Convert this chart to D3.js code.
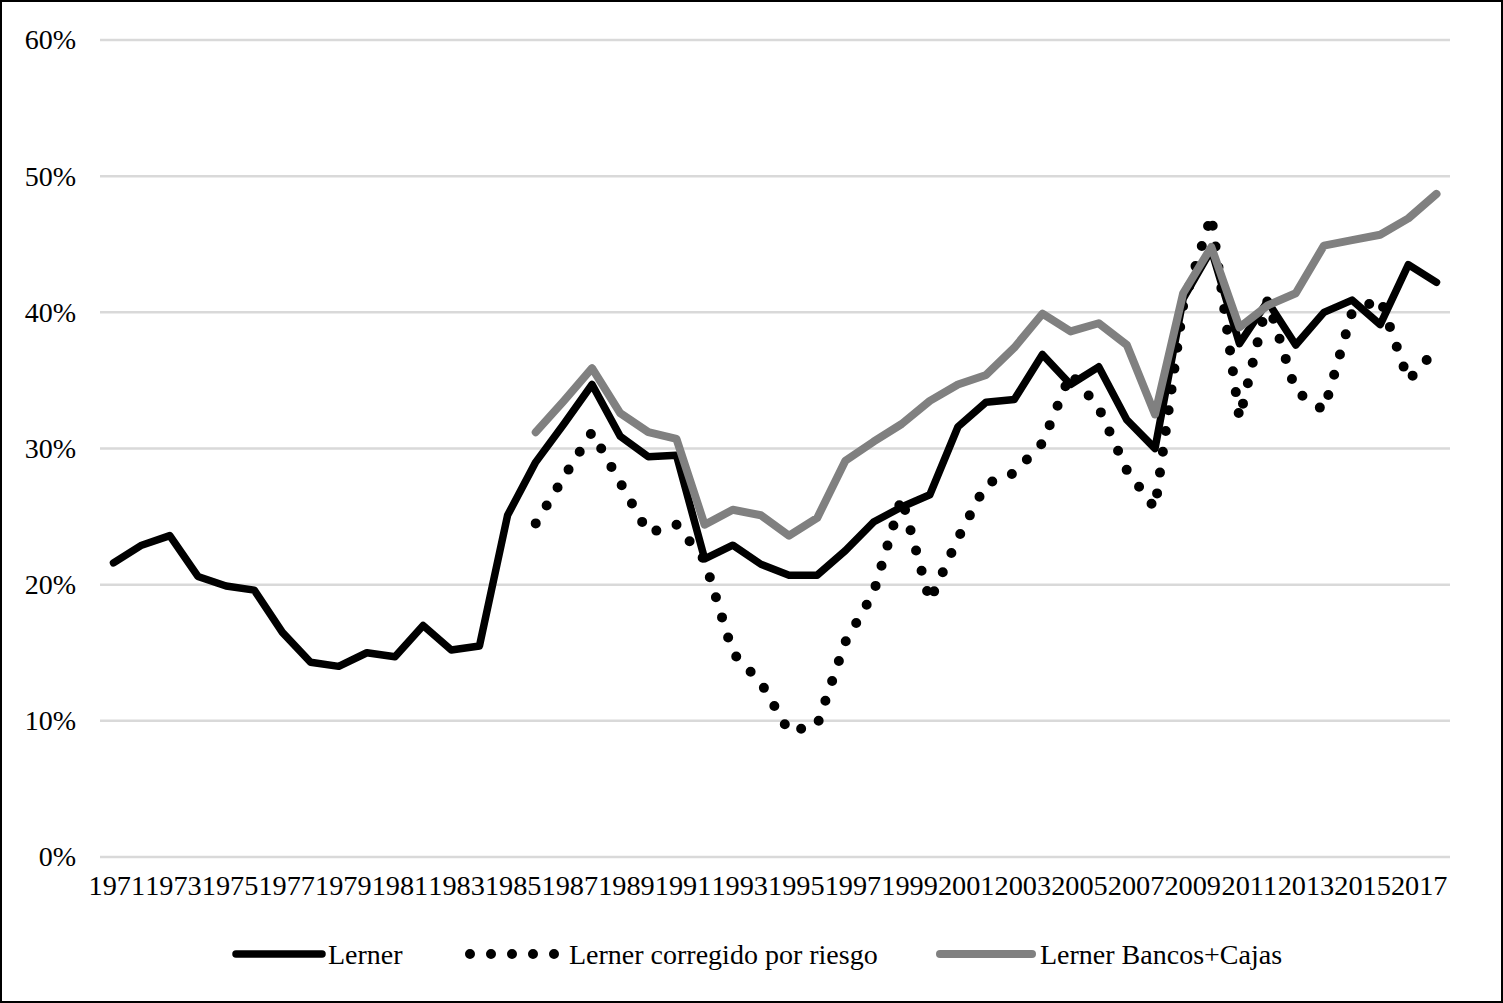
<!DOCTYPE html>
<html>
<head>
<meta charset="utf-8">
<script src="https://cdn.jsdelivr.net/npm/d3@7"></script>
<style>
html,body{margin:0;padding:0;background:#fff;}
svg{display:block;}
</style>
</head>
<body>
<svg id="chart" width="1503" height="1003"></svg>
<script>
const years = [1971,1972,1973,1974,1975,1976,1977,1978,1979,1980,1981,1982,1983,1984,1985,1986,1987,1988,1989,1990,1991,1992,1993,1994,1995,1996,1997,1998,1999,2000,2001,2002,2003,2004,2005,2006,2007,2008,2009,2010,2011,2012,2013,2014,2015,2016,2017,2018];

const lerner = [21.6,22.9,23.6,20.6,19.9,19.6,16.5,14.3,14.0,15.0,14.7,17.0,15.2,15.5,25.1,29.0,31.8,34.7,30.9,29.4,29.5,21.9,22.9,21.5,20.7,20.7,22.5,24.6,25.7,26.6,31.6,33.4,33.6,36.9,34.7,36.0,32.1,30.0,41.0,44.6,37.7,40.8,37.6,40.0,40.9,39.1,43.5,42.2];

const lernerRiesgo = [null,null,null,null,null,null,null,null,null,null,null,null,null,null,null,24.5,27.9,31.2,27.5,23.8,24.4,21.8,15.0,12.8,9.2,9.7,15.8,19.4,26.4,18.8,23.4,27.4,28.2,30.4,35.5,33.0,28.4,25.6,40.5,47.1,32.2,40.9,34.2,32.8,40.0,41.0,35.0,37.3];

const lernerBancos = [null,null,null,null,null,null,null,null,null,null,null,null,null,null,null,31.2,33.5,35.9,32.6,31.2,30.7,24.4,25.5,25.1,23.6,24.9,29.1,30.5,31.8,33.5,34.7,35.4,37.4,39.9,38.6,39.2,37.6,32.5,41.4,44.8,38.9,40.5,41.4,44.9,45.3,45.7,46.9,48.7];

const seriesNames = ["Lerner","Lerner corregido por riesgo","Lerner Bancos+Cajas"];
const xTickYears = [1971,1973,1975,1977,1979,1981,1983,1985,1987,1989,1991,1993,1995,1997,1999,2001,2003,2005,2007,2009,2011,2013,2015,2017];
const yTicks = [0,0.1,0.2,0.3,0.4,0.5,0.6];

const svg = d3.select("#chart");
const W = 1503, H = 1003;
const FONT = "'Liberation Serif','Times New Roman',serif";

// frame
svg.append("rect").attr("x",1).attr("y",1).attr("width",W-2).attr("height",H-2)
  .attr("fill","#fff").attr("stroke","#000").attr("stroke-width",2);

const x = d3.scalePoint().domain(years).range([113.5, 1436.5]);
// label positions (the reference's crowded labels sit on a slightly wider spacing)
const xLabel = d3.scalePoint().domain(years).range([116.3, 1447]);
const y = d3.scaleLinear().domain([0,0.6]).range([857, 40]);

// gridlines
svg.append("g").selectAll("line").data(yTicks).join("line")
  .attr("x1",100).attr("x2",1450)
  .attr("y1",d=>y(d)).attr("y2",d=>y(d))
  .attr("stroke","#d9d9d9").attr("stroke-width",2.5);

// y axis labels
const yAxis = d3.axisLeft(y).tickValues(yTicks).tickFormat(d3.format(".0%")).tickSize(0).tickPadding(0);
const gy = svg.append("g").attr("transform","translate(76,0)").call(yAxis);
gy.select(".domain").remove();
gy.selectAll("text").attr("font-family",FONT).attr("font-size",28).attr("fill","#000");

// x axis labels
const xAxis = d3.axisBottom(xLabel).tickValues(xTickYears).tickSize(0).tickPadding(0);
const gx = svg.append("g").attr("transform","translate(0,875)").call(xAxis);
gx.select(".domain").remove();
gx.selectAll("text").attr("font-family",FONT).attr("font-size",28.3).attr("fill","#000").attr("dy","0.71em");

const line = d3.line()
  .defined(d => d.v != null)
  .x(d => x(d.year))
  .y(d => y(d.v/100));

const mk = arr => years.map((yr,i)=>({year:yr, v:arr[i]}));

const styles = [
  {data: lerner, color:"#000", width:7.5, dash:null},
  {data: lernerRiesgo, color:"#000", width:10, dash:"0 21"},
  {data: lernerBancos, color:"#808080", width:8, dash:null}
];

styles.forEach(s=>{
  svg.append("path").datum(mk(s.data))
    .attr("d", line)
    .attr("fill","none")
    .attr("stroke", s.color)
    .attr("stroke-width", s.width)
    .attr("stroke-linejoin","round")
    .attr("stroke-linecap","round")
    .attr("stroke-dasharray", s.dash);
});

// legend
const legendItems = [
  {name: seriesNames[0], x1:236, x2:322, tx:328, st:styles[0]},
  {name: seriesNames[1], x1:470, x2:555, tx:569, st:styles[1]},
  {name: seriesNames[2], x1:940, x2:1032, tx:1040, st:styles[2]}
];
const lg = svg.append("g");
legendItems.forEach(it=>{
  lg.append("line").attr("x1",it.x1).attr("x2",it.x2).attr("y1",954).attr("y2",954)
    .attr("stroke",it.st.color).attr("stroke-width",it.st.width)
    .attr("stroke-linecap","round")
    .attr("stroke-dasharray", it.st.dash);
  lg.append("text").attr("x",it.tx).attr("y",954).attr("dy","0.35em")
    .attr("font-family",FONT).attr("font-size",28).attr("fill","#000").text(it.name);
});
</script>
</body>
</html>
